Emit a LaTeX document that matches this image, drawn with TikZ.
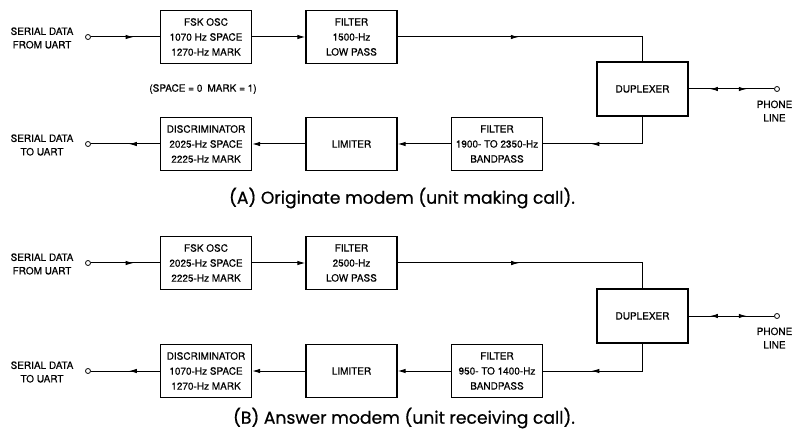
\documentclass[tikz,border=0pt]{standalone}
\usepackage{fontspec}
\setmainfont[FakeBold=0.4]{TeX Gyre Heros}
\newfontfamily\capfont[FakeBold=0.6]{Poppins}
\usetikzlibrary{positioning,arrows.meta,decorations.markings}

\begin{document}
\begin{tikzpicture}[x=1pt,y=-1pt,
		blk/.style={draw,line width=1.2pt,minimum width=91pt,minimum height=53pt,inner sep=1pt,align=center,font=\fontsize{10}{15}\selectfont},
		term/.style={draw,circle,line width=0.8pt,inner sep=0pt,minimum size=5pt},
		lbl/.style={align=center,font=\fontsize{10}{13.5}\selectfont},
		wire/.style={line width=1pt},
		tip/.style={-{Latex[length=8pt,width=4.5pt]}},
		midtip/.style={postaction={decorate},decoration={markings,mark=at position #1 with {\arrow{Latex[length=8pt,width=4.5pt]}}}},
		bothtips/.style={postaction={decorate},decoration={markings,
				mark=at position 0.25 with {\arrowreversed{Latex[length=8pt,width=4.5pt]}},
				mark=at position 0.68 with {\arrow{Latex[length=8pt,width=4.5pt]}}}},
		caption/.style={font=\capfont\fontsize{17.2}{20}\selectfont}
		]
		
		\useasboundingbox (0,0) rectangle (794,435);
		
		% (A) originate
		\node[lbl] (srcA) at (42,38) {SERIAL DATA\\FROM UART};
		\node[term] (inA) at (88,37) {};
		\node[blk] (oscA) at (206,37) {FSK OSC\\1070 Hz SPACE\\1270-Hz MARK};
		\node[blk] (lpfA) at (351.5,37) {FILTER\\1500-Hz\\LOW PASS};
		\node[blk,minimum height=54pt] (dupA) at (642.5,89) {DUPLEXER};
		\node[term] (lineA) at (777,89) {};
		\node[lbl] (phoneA) at (774.5,111) {PHONE\\LINE};
		\node[blk] (bpfA) at (497,144) {FILTER\\1900- TO 2350-Hz\\BANDPASS};
		\node[blk] (limA) at (351.5,144) {LIMITER};
		\node[blk] (discA) at (206,144) {DISCRIMINATOR\\2025-Hz SPACE\\2225-Hz MARK};
		\node[term] (outA) at (88,144) {};
		\node[lbl] (snkA) at (42,145) {SERIAL DATA\\TO UART};
		\node[lbl] (codeA) at (203,89) {(SPACE = 0\enspace MARK = 1)};
		\node[caption] (capA) at (402,198) {(A) Originate modem (unit making call).};
		
		\draw[wire,midtip=0.62] (inA) -- (oscA);
		\draw[wire,tip] (oscA) -- (lpfA);
		\draw[wire,midtip=0.45] (lpfA) -| (dupA);
		\draw[wire,bothtips] (dupA) -- (lineA);
		\draw[wire,midtip=0.62] (dupA) |- (bpfA);
		\draw[wire,tip] (bpfA) -- (limA);
		\draw[wire,tip] (limA) -- (discA);
		\draw[wire,midtip=0.45] (discA) -- (outA);
		
		% (B) answer
		\node[lbl] (srcB) at (42,264) {SERIAL DATA\\FROM UART};
		\node[term] (inB) at (88,263) {};
		\node[blk] (oscB) at (206,263) {FSK OSC\\2025-Hz SPACE\\2225-Hz MARK};
		\node[blk] (lpfB) at (351.5,263) {FILTER\\2500-Hz\\LOW PASS};
		\node[blk,minimum height=54pt] (dupB) at (642.5,316) {DUPLEXER};
		\node[term] (lineB) at (777,316) {};
		\node[lbl] (phoneB) at (774.5,338) {PHONE\\LINE};
		\node[blk] (bpfB) at (497,371) {FILTER\\950- TO 1400-Hz\\BANDPASS};
		\node[blk] (limB) at (351.5,371) {LIMITER};
		\node[blk] (discB) at (206,371) {DISCRIMINATOR\\1070-Hz SPACE\\1270-Hz MARK};
		\node[term] (outB) at (88,371) {};
		\node[lbl] (snkB) at (42,372) {SERIAL DATA\\TO UART};
		\node[caption] (capB) at (404,418) {(B) Answer modem (unit receiving call).};
		
		\draw[wire,midtip=0.62] (inB) -- (oscB);
		\draw[wire,tip] (oscB) -- (lpfB);
		\draw[wire,midtip=0.45] (lpfB) -| (dupB);
		\draw[wire,bothtips] (dupB) -- (lineB);
		\draw[wire,midtip=0.62] (dupB) |- (bpfB);
		\draw[wire,tip] (bpfB) -- (limB);
		\draw[wire,tip] (limB) -- (discB);
		\draw[wire,midtip=0.45] (discB) -- (outB);
		
	\end{tikzpicture}
\end{document}
